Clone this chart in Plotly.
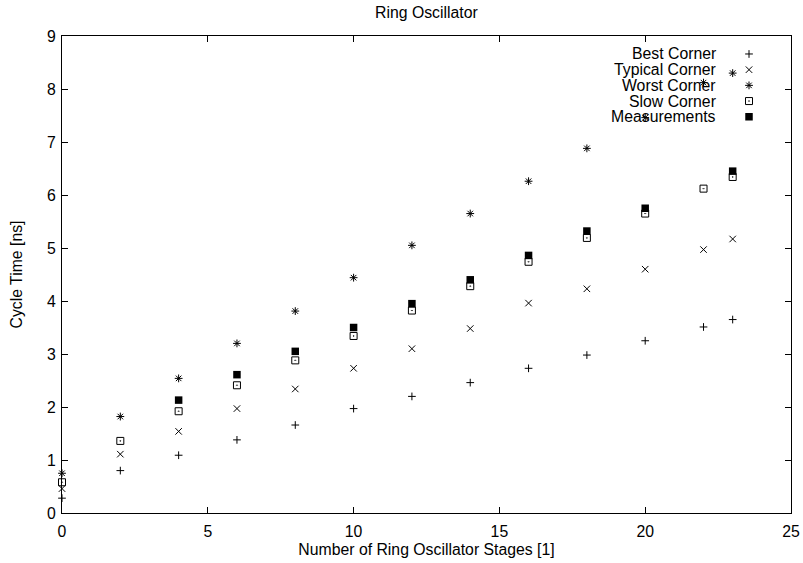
import plotly.graph_objects as go

# ---- data ----
stages_all = [0, 2, 4, 6, 8, 10, 12, 14, 16, 18, 20, 22, 23]
best_corner = [0.28, 0.80, 1.09, 1.38, 1.66, 1.97, 2.20, 2.46, 2.73, 2.98, 3.25, 3.51, 3.65]
typical_corner = [0.46, 1.11, 1.54, 1.97, 2.34, 2.73, 3.10, 3.48, 3.96, 4.23, 4.60, 4.97, 5.17]
worst_corner = [0.75, 1.82, 2.54, 3.20, 3.81, 4.44, 5.05, 5.65, 6.26, 6.88, 7.46, 8.12, 8.30]
slow_corner = [0.58, 1.36, 1.92, 2.41, 2.88, 3.34, 3.82, 4.28, 4.74, 5.19, 5.65, 6.12, 6.34]
stages_meas = [4, 6, 8, 10, 12, 14, 16, 18, 20, 23]
measurements = [2.13, 2.61, 3.05, 3.50, 3.95, 4.40, 4.86, 5.32, 5.75, 6.45]

series_names = ["Best Corner", "Typical Corner", "Worst Corner", "Slow Corner", "Measurements"]
x_ticks = [0, 5, 10, 15, 20, 25]
y_ticks = [0, 1, 2, 3, 4, 5, 6, 7, 8, 9]

FONT = "Liberation Sans, Arial, Helvetica, sans-serif"
FS = 15.8

styles = [
    dict(symbol="cross-thin", size=5.5, color="black", line=dict(color="black", width=1)),
    dict(symbol="x-thin", size=6.5, color="black", line=dict(color="black", width=1)),
    dict(symbol="asterisk", size=6.5, color="black", line=dict(color="black", width=1)),
    dict(symbol="square-open-dot", size=7, color="black", line=dict(color="black", width=1)),
    dict(symbol="square", size=7.5, color="black", line=dict(color="black", width=0)),
]

data = [
    (stages_all, best_corner),
    (stages_all, typical_corner),
    (stages_all, worst_corner),
    (stages_all, slow_corner),
    (stages_meas, measurements),
]

fig = go.Figure()
for (xs, ys), st, name in zip(data, styles, series_names):
    fig.add_trace(go.Scatter(x=xs, y=ys, mode="markers", name=name,
                             marker=st, showlegend=False, cliponaxis=False))

# ---- gnuplot-style legend (text right-aligned, key on the right) ----
leg_x_text = 0.9005
leg_x_key = 0.9424
leg_y_top = 0.9623
leg_step = 0.0329
for i, (name, st) in enumerate(zip(series_names, styles)):
    yy = leg_y_top - i * leg_step
    fig.add_annotation(x=leg_x_text, y=yy, xref="paper", yref="paper", text=name,
                       showarrow=False, xanchor="right", yanchor="middle",
                       font=dict(family=FONT, size=FS, color="black"))
    fig.add_trace(go.Scatter(x=[leg_x_key], y=[yy], mode="markers", marker=st,
                             xaxis="x2", yaxis="y2", showlegend=False, hoverinfo="skip"))

axis_common = dict(
    showgrid=False, zeroline=False, showline=True, linecolor="black", linewidth=1,
    mirror="ticks", ticks="inside", ticklen=6, tickwidth=1, tickcolor="black",
    tickfont=dict(family=FONT, size=FS, color="black"),
)

fig.update_layout(
    width=803, height=563,
    margin=dict(l=62, r=12, t=36, b=50),
    paper_bgcolor="white", plot_bgcolor="white",
    title=dict(text="Ring Oscillator", x=0.531, xanchor="center", y=0.978, yanchor="middle",
               font=dict(family=FONT, size=FS, color="black")),
    xaxis=dict(range=[0, 25], tickvals=x_ticks, ticktext=[str(v) for v in x_ticks],
               ticklabelstandoff=4,
               title=dict(text="Number of Ring Oscillator Stages [1]", standoff=4,
                          font=dict(family=FONT, size=FS, color="black")),
               automargin=False, **axis_common),
    yaxis=dict(range=[0, 9], tickvals=y_ticks, ticktext=[str(v) for v in y_ticks],
               ticklabelstandoff=2,
               title=dict(text="Cycle Time [ns]", standoff=20,
                          font=dict(family=FONT, size=FS, color="black")),
               automargin=False, **axis_common),
    xaxis2=dict(range=[0, 1], overlaying="x", visible=False, fixedrange=True),
    yaxis2=dict(range=[0, 1], overlaying="y", visible=False, fixedrange=True),
    showlegend=False,
)

fig.write_html("out.html", config={"displayModeBar": False},
               post_script="document.body.style.margin='0px';")
